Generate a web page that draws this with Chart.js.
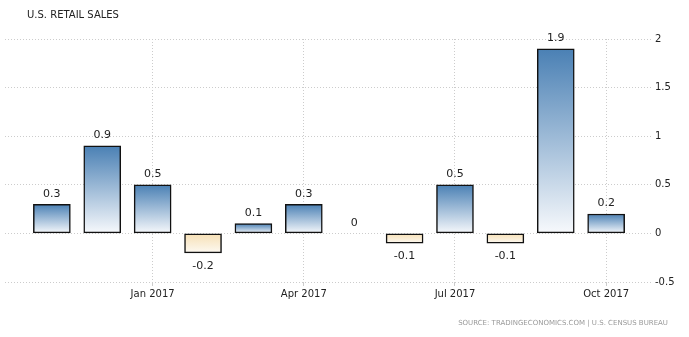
<!DOCTYPE html>
<html>
<head>
<meta charset="utf-8">
<script src="https://cdn.jsdelivr.net/npm/chart.js@4"></script>
<style>
  html, body { margin: 0; padding: 0; background: #fff; }
  #wrap { position: relative; width: 689px; height: 337px; }
  #title { position: absolute; left: 27px; top: 9px; font: 10px "DejaVu Sans", sans-serif; color: #222; }
  #source { position: absolute; right: 21px; top: 319px; font: 7px "DejaVu Sans", sans-serif; color: #999; }
</style>
</head>
<body>
<div id="wrap">
  <canvas id="retailChart" width="689" height="337"></canvas>
  <div id="title">U.S. RETAIL SALES</div>
  <div id="source">SOURCE: TRADINGECONOMICS.COM | U.S. CENSUS BUREAU</div>
</div>
<script>
// monthly change in retail sales, Nov 2016 - Oct 2017 (%)
const months = ["Nov 2016", "Dec 2016", "Jan 2017", "Feb 2017", "Mar 2017", "Apr 2017",
                "May 2017", "Jun 2017", "Jul 2017", "Aug 2017", "Sep 2017", "Oct 2017"];
const sales = [0.3, 0.9, 0.5, -0.2, 0.1, 0.3, 0, -0.1, 0.5, -0.1, 1.9, 0.2];
const xTickIdx = [2, 5, 8, 11];
const yTicks = [-0.5, 0, 0.5, 1, 1.5, 2];

const ctx = document.getElementById("retailChart").getContext("2d");

// vertical gradient per bar, from its top edge down to its bottom edge
function barFill(context) {
  const chart = context.chart;
  const y = chart.scales.y;
  const v = context.raw ? context.raw.y : 0;
  if (!y || !chart.chartArea || v === undefined) return "#6b98c4";
  const top = y.getPixelForValue(Math.max(v, 0));
  const bot = y.getPixelForValue(Math.min(v, 0));
  if (!isFinite(top) || !isFinite(bot) || bot - top < 1) return "#6b98c4";
  const g = chart.ctx.createLinearGradient(0, top, 0, bot);
  if (v >= 0) {
    g.addColorStop(0, "#4a80b4");
    g.addColorStop(1, "#f7f9fc");
  } else {
    g.addColorStop(0, "#f6dfb4");
    g.addColorStop(1, "#fdf9f1");
  }
  return g;
}

// value labels above positive bars and below negative ones
const valueLabels = {
  id: "valueLabels",
  afterDatasetsDraw(chart) {
    const c = chart.ctx;
    const meta = chart.getDatasetMeta(0);
    c.save();
    c.font = '11px "DejaVu Sans", sans-serif';
    c.fillStyle = "#222";
    c.textAlign = "center";
    meta.data.forEach((bar, i) => {
      const v = sales[i];
      if (v < 0) {
        c.textBaseline = "top";
        c.fillText(String(v), bar.x, bar.y + 8);
      } else {
        c.textBaseline = "bottom";
        c.fillText(String(v), bar.x, bar.y - 5);
      }
    });
    c.restore();
  }
};

new Chart(ctx, {
  type: "bar",
  data: {
    datasets: [{
      data: sales.map((v, i) => ({ x: i, y: v })),
      backgroundColor: barFill,
      borderColor: "#111",
      borderWidth: 1.5,
      borderSkipped: false,
      barThickness: 37
    }]
  },
  options: {
    responsive: false,
    animation: false,
    layout: { padding: { left: 5, top: 39, right: 0, bottom: 0 } },
    plugins: { legend: { display: false }, tooltip: { enabled: false } },
    scales: {
      x: {
        type: "linear",
        offset: false,
        min: -0.93,
        max: 11.91,
        afterBuildTicks: (axis) => { axis.ticks = xTickIdx.map(v => ({ value: v })); },
        afterFit: (axis) => { axis.height = 55; },
        ticks: {
          callback: (v) => months[v],
          font: { family: "DejaVu Sans", size: 10 },
          color: "#222",
          maxRotation: 0,
          autoSkip: false,
          padding: 2
        },
        grid: { offset: false, color: "#cccccc", lineWidth: 1, tickLength: 4, drawTicks: true },
        border: { display: false, dash: [1, 2] }
      },
      y: {
        position: "right",
        min: -0.5,
        max: 2,
        afterBuildTicks: (axis) => { axis.ticks = yTicks.map(v => ({ value: v })); },
        afterFit: (axis) => { axis.width = 37; },
        ticks: {
          callback: (v) => String(v),
          font: { family: "DejaVu Sans", size: 10 },
          color: "#222",
          padding: 3,
          align: "center"
        },
        grid: { color: "#cccccc", lineWidth: 1, drawTicks: false },
        border: { display: false, dash: [1, 2] }
      }
    }
  },
  plugins: [valueLabels]
});
</script>
</body>
</html>
